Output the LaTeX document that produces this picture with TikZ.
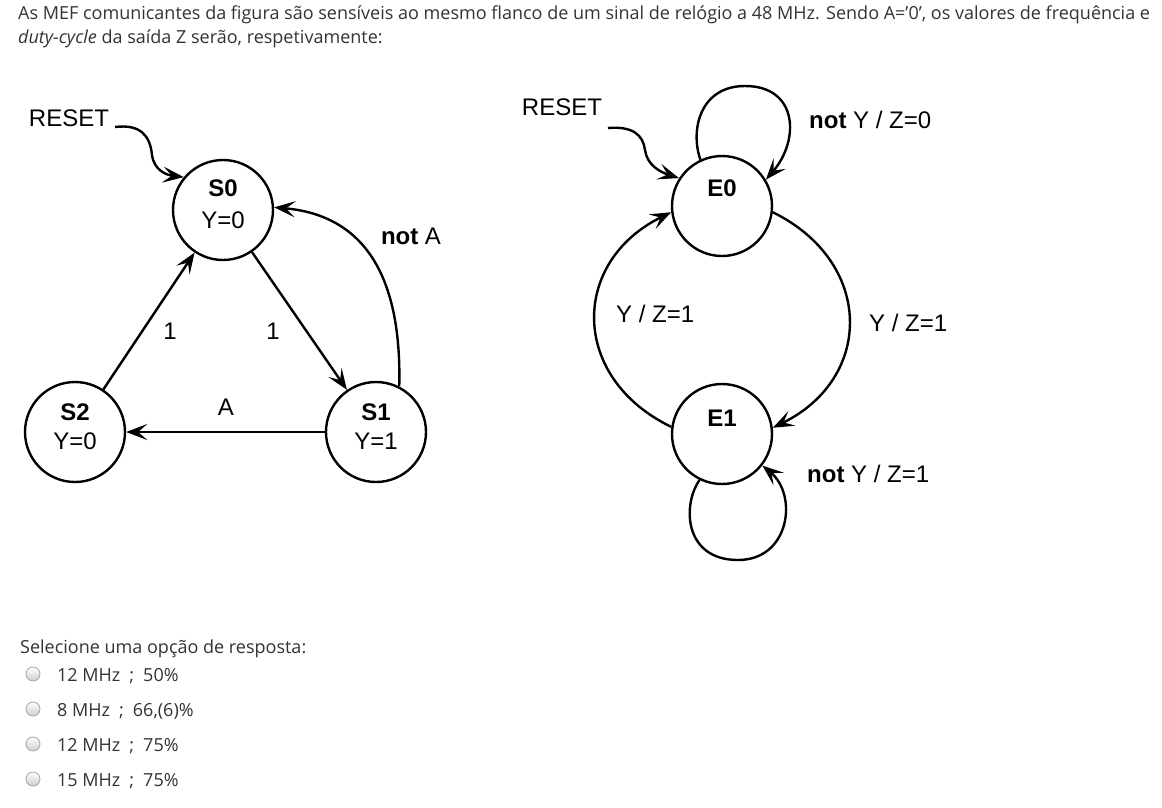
\documentclass[tikz,border=0pt]{standalone}
\usepackage{fontspec}
\setmainfont{Open Sans}
\newfontfamily\arial{Liberation Sans}
\usetikzlibrary{arrows.meta}
\definecolor{txt}{RGB}{51,51,51}
\definecolor{rborder}{RGB}{165,165,165}
\definecolor{rfill}{RGB}{205,205,205}
\begin{document}
\begin{tikzpicture}[x=1pt,y=-1pt,
  state/.style={circle,draw,line width=2.4pt,minimum size=100pt,inner sep=0pt},
  lbl/.style={font=\arial\fontsize{24}{28}\selectfont,inner sep=0pt},
  arr/.style={line width=2.4pt,-{Stealth[length=21pt,width=16pt,inset=9pt]}},
  page/.style={font=\fontsize{18}{22}\selectfont,text=txt,inner sep=0pt,anchor=base west},
  radio/.style={circle,minimum size=14pt,inner sep=0pt,draw=rborder,line width=0.8pt,top color=white,bottom color=rfill}
]
\useasboundingbox[fill=white] (0,0) rectangle (1162,807);

% question text
\node[page] (t1) at (18,19.5) {As MEF comunicantes da figura são sensíveis ao mesmo flanco de um sinal de relógio a 48 MHz. Sendo A=’0’, os valores de frequência e};
\node[page] (t2) at (18,43) {\textit{duty-cycle} da saída Z serão, respetivamente:};

% left FSM
\node[state] (S0) at (223,210) {};
\node[state] (S1) at (376,432) {};
\node[state] (S2) at (75,432) {};
\node[lbl] (S0a) at (223,188) {\bfseries S0};
\node[lbl] (S0b) at (223,220) {Y=0};
\node[lbl] (S1a) at (376,412) {\bfseries S1};
\node[lbl] (S1b) at (376,441) {Y=1};
\node[lbl] (S2a) at (75,412) {\bfseries S2};
\node[lbl] (S2b) at (75,441) {Y=0};
\node[lbl] (resetL) at (69,118) {RESET};
\coordinate (rsL) at (115,127);
\draw[arr] (rsL) .. controls (140,124) and (150,135) .. (152,155)
  .. controls (154,170) and (166,175) .. (S0.140);
\draw[arr] (S0) -- (S1);
\draw[arr] (S2) -- (S0);
\draw[arr] (S1) -- (S2);
\draw[arr] (S1.63) .. controls (402,270) and (360,215) .. (S0.3);
\node[lbl] (l1a) at (170,331) {1};
\node[lbl] (l1b) at (273,331) {1};
\node[lbl] (lA) at (226,407) {A};
\node[lbl] (lnA) at (411,236) {\bfseries not\mdseries{} A};

% right FSM
\node[state] (E0) at (722,206) {};
\node[state] (E1) at (722,434) {};
\node[lbl] (E0a) at (722,188) {\bfseries E0};
\node[lbl] (E1a) at (722,418) {\bfseries E1};
\node[lbl] (resetR) at (562,107) {RESET};
\coordinate (rsR) at (608,128);
\draw[arr] (rsR) .. controls (633,126) and (643,135) .. (645,150)
  .. controls (647,165) and (660,172) .. (E0.147);
\draw[arr] (E0.115) .. controls (690,130) and (700,86) .. (745,86)
  .. controls (798,86) and (800,140) .. (E0.31);
\draw[arr] (E1.244) .. controls (682,505) and (684,560) .. (738,560)
  .. controls (790,560) and (798,495) .. (E1.322);
\draw[arr] (E0.-7) .. controls (874,262) and (874,378) .. (E1.7);
\draw[arr] (E1.172) .. controls (570,378) and (570,262) .. (E0.187);
\node[lbl,anchor=west] (lE0) at (809,120) {\bfseries not\mdseries{} Y / Z=0};
\node[lbl,anchor=west] (lR) at (869,323) {Y / Z=1};
\node[lbl,anchor=west] (lL) at (616,314) {Y / Z=1};
\node[lbl,anchor=west] (lE1) at (807,474) {\bfseries not\mdseries{} Y / Z=1};

% answers
\node[page] (q) at (20,653) {Selecione uma opção de resposta:};
\node[radio] (r1) at (33,674) {};
\node[radio] (r2) at (33,709) {};
\node[radio] (r3) at (33,744) {};
\node[radio] (r4) at (33,779) {};
\node[page] (o1) at (57,681) {12 MHz\hspace{9pt};\hspace{9pt}50\%};
\node[page] (o2) at (57,716) {8 MHz\hspace{9pt};\hspace{9pt}66,(6)\%};
\node[page] (o3) at (57,751) {12 MHz\hspace{9pt};\hspace{9pt}75\%};
\node[page] (o4) at (57,786) {15 MHz\hspace{9pt};\hspace{9pt}75\%};
\end{tikzpicture}
\end{document}
